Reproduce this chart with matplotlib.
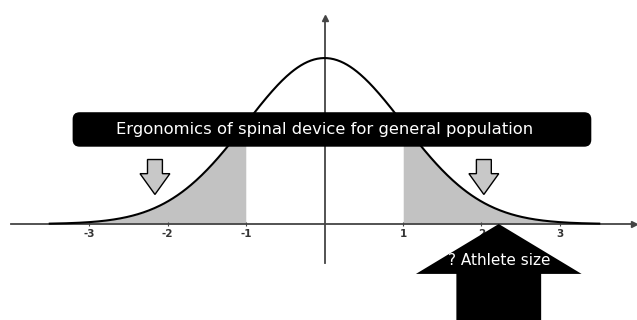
import numpy as np
import matplotlib.pyplot as plt
from matplotlib.patches import FancyArrow, FancyBboxPatch

# standard normal, x in units of sigma
mean = 0.0
sd = 1.0
tick_pos = [-3, -2, -1, 1, 2, 3]
tick_labels = ['-3', '-2', '-1', '1', '2', '3']
shade_cut = 1.0
banner_text = 'Ergonomics of spinal device for general population'
athlete_text = '? Athlete size'
athlete_pos = 2.22      # where the big arrow points
small_arrow_pos = [-2.16, 2.03]

x = np.linspace(-3.5, 3.5, 500)
y = np.exp(-0.5 * ((x - mean) / sd) ** 2) / (sd * np.sqrt(2 * np.pi))

fig = plt.figure(figsize=(6.37, 3.2), dpi=100)
ax = fig.add_axes([0, 0, 1, 1])
ax.set_xlim(-4.134, 3.981)
ax.set_ylim(-0.2308, 0.5385)

# shaded tails
ax.fill_between(x, 0, y, where=x <= -shade_cut, color='#c2c2c2', lw=0)
ax.fill_between(x, 0, y, where=x >= shade_cut, color='#c2c2c2', lw=0)
ax.plot(x, y, color='black', lw=1.5, zorder=3)

# axes through the origin with arrow heads
for s in ['top', 'right']:
    ax.spines[s].set_visible(False)
ax.spines['bottom'].set_position(('data', 0))
ax.spines['left'].set_position(('data', 0))
ax.spines['bottom'].set_bounds(-3.99, 3.92)
ax.spines['left'].set_bounds(-0.094, 0.495)
for s in ['bottom', 'left']:
    ax.spines[s].set_color('#444444')
    ax.spines[s].set_linewidth(1.3)
ax.plot(0, 0.495, '^', color='#444444', ms=4, clip_on=False)
ax.plot(3.94, 0, '>', color='#444444', ms=4)

ax.set_xticks(tick_pos)
ax.set_xticklabels(tick_labels, fontsize=7.5, color='#333333', fontweight='bold')
ax.tick_params(axis='x', direction='inout', length=3, color='#444444', pad=2)
ax.set_yticks([])

# banner
ax.add_patch(FancyBboxPatch((-3.20, 0.1875), 6.59, 0.0795,
                            boxstyle='round,pad=0,rounding_size=0.08',
                            mutation_aspect=0.19, fc='black', ec='black', zorder=4))
ax.text(0.0, 0.228, banner_text, color='white', fontsize=11.8,
        ha='center', va='center', zorder=5)

# small hollow arrows
for xp in small_arrow_pos:
    ax.add_patch(FancyArrow(xp, 0.155, 0, -0.084, width=0.19, head_width=0.38,
                            head_length=0.05, length_includes_head=True,
                            fc='#c8c8c8', ec='black', lw=1, zorder=4))

# big arrow
ax.add_patch(FancyArrow(athlete_pos, -0.24, 0, 0.24, width=1.08, head_width=2.11,
                        head_length=0.12, length_includes_head=True,
                        fc='black', ec='black', lw=0, zorder=4))
ax.text(athlete_pos, -0.088, athlete_text, color='white', fontsize=11,
        ha='center', va='center', zorder=5)

fig.savefig('out.png', dpi=100)
